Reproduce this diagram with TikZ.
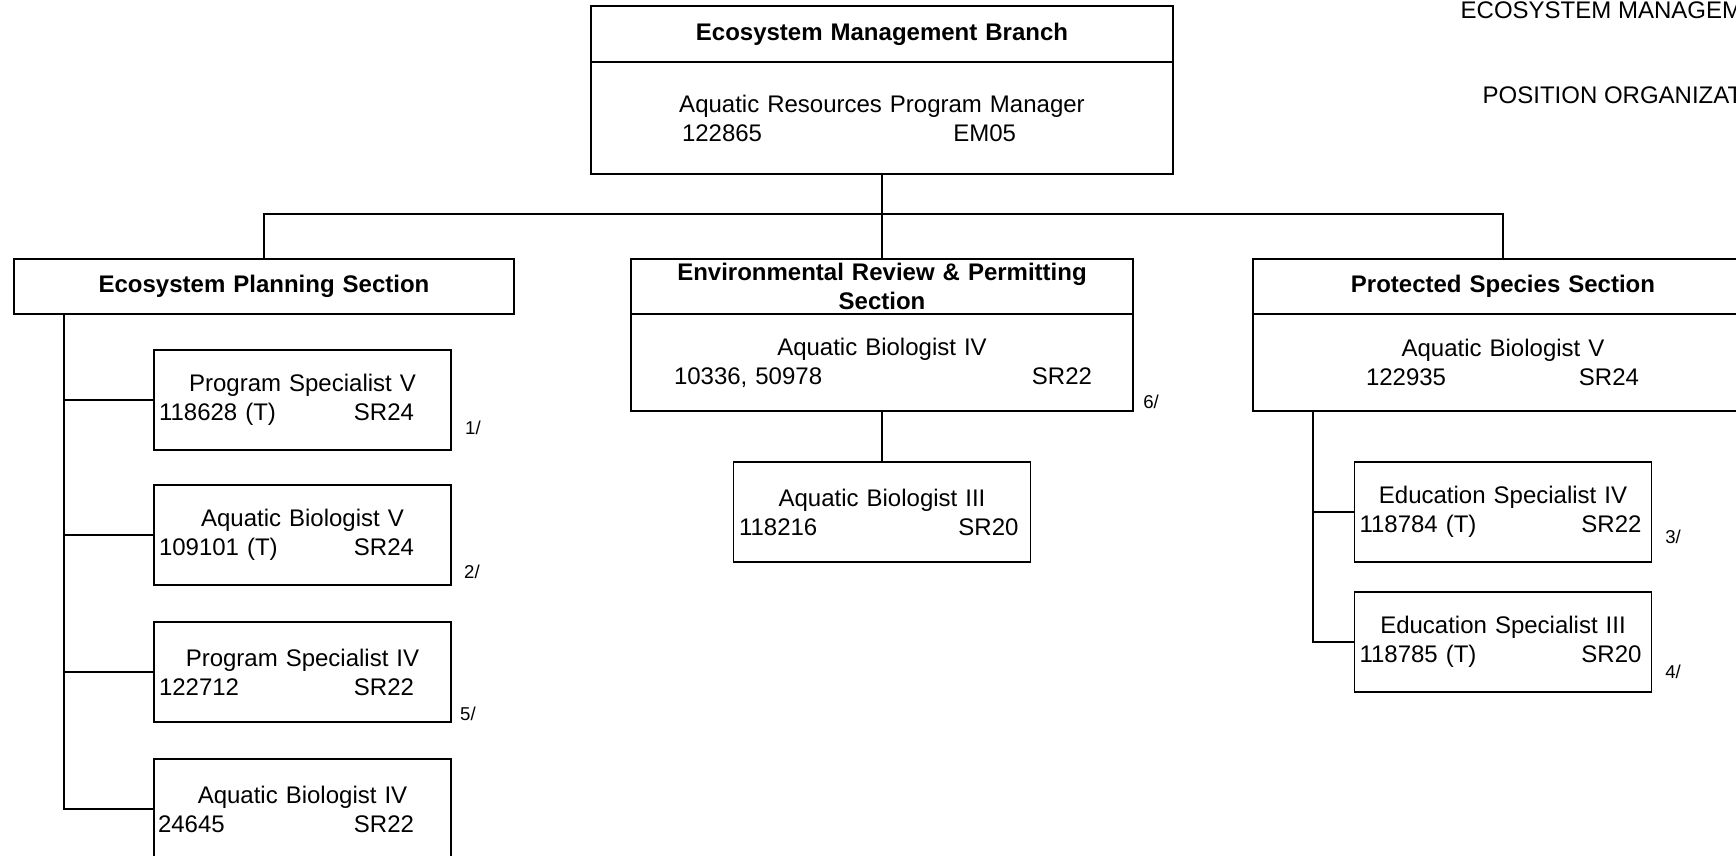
\documentclass[tikz,border=0pt]{standalone}
\usepackage{fontspec}
\setmainfont{Liberation Sans}
\newcommand{\chartfont}{\fontsize{12}{14.5}\selectfont}
\newcommand{\numgrade}[4]{\hspace*{#1}#2\hfill#3\hspace*{#4}\mbox{}}
\tikzset{
  unit/.style={draw, inner xsep=0pt, inner ysep=1pt, align=center},
  head/.style={unit, text width=250pt, minimum height=27.5pt, font=\chartfont\bfseries},
  post/.style={unit, text width=148.5pt, minimum height=50pt},
  note/.style={inner sep=0pt, font=\fontsize{9.3}{10}\selectfont}
}
\begin{document}
\begin{tikzpicture}[x=0.5pt, y=-0.5pt, line width=0.7pt, font=\chartfont]
                \useasboundingbox (0,0) rectangle (1736,856);
                \clip (0,0) rectangle (1736,856);
                \node[anchor=base west, inner sep=0pt] (ttl) at (1460,19) {ECOSYSTEM MANAGEM};
                \node[anchor=base west, inner sep=0pt] (sub) at (1482,104) {POSITION ORGANIZAT};
                \node[head, text width=291pt, minimum height=28pt] (emb) at (882,34) {Ecosystem Management Branch};
                \node[unit, text width=291pt, minimum height=56pt] (embp) at (882,118) {Aquatic Resources Program Manager\\\numgrade{45.5pt}{122865}{EM05}{78.5pt}};
                \node[head] (eps) at (264,286.5) {Ecosystem Planning Section};
                \node[head, text width=251pt] (erp) at (882,286.5) {Environmental Review \& Permitting\\Section};
                \node[unit, text width=251pt, minimum height=48.5pt] (erpp) at (882,362.5) {Aquatic Biologist IV\\\numgrade{21.5pt}{10336, 50978}{SR22}{20.5pt}};
                \node[head] (pss) at (1503,286.5) {Protected Species Section};
                \node[unit, text width=250pt, minimum height=48.5pt] (pssp) at (1503,362.5) {Aquatic Biologist V\\\numgrade{56.5pt}{122935}{SR24}{57pt}};
                \node[post] (p1) at (302.5,400) {Program Specialist V\\\numgrade{2.5pt}{118628 (T)}{SR24}{18.5pt}};
                \node[post] (p2) at (302.5,535) {Aquatic Biologist V\\\numgrade{2.5pt}{109101 (T)}{SR24}{18.5pt}};
                \node[post] (p3) at (302.5,672) {Program Specialist IV\\\numgrade{2.5pt}{122712}{SR22}{18.5pt}};
                \node[post] (p4) at (302.5,809) {Aquatic Biologist IV\\\numgrade{2pt}{24645}{SR22}{18.5pt}};
                \node[post] (a3) at (882,512) {Aquatic Biologist III\\\numgrade{2.75pt}{118216}{SR20}{6pt}};
                \node[post] (e4) at (1503,512) {Education Specialist IV\\\numgrade{2.5pt}{118784 (T)}{SR22}{5pt}};
                \node[post] (e3) at (1503,642) {Education Specialist III\\\numgrade{2.5pt}{118785 (T)}{SR20}{5pt}};
                \node[note] (n1) at (473,428) {1/};
                \node[note] (n2) at (472,572) {2/};
                \node[note] (n5) at (468,714) {5/};
                \node[note] (n6) at (1151,402) {6/};
                \node[note] (n3) at (1673,537) {3/};
                \node[note] (n4) at (1673,672) {4/};
                \coordinate (bus) at (882,214);
                \coordinate (ept) at (64,314);
                \coordinate (pst) at (1313,411);
                \draw (embp) -- (erp);
                \draw (eps.north) |- (bus) -| (pss.north);
                \foreach \n in {p1,p2,p3,p4} \draw (ept) |- (\n.west);
                \draw (erpp) -- (a3);
                \foreach \n in {e4,e3} \draw (pst) |- (\n.west);
            \end{tikzpicture}
\end{document}
